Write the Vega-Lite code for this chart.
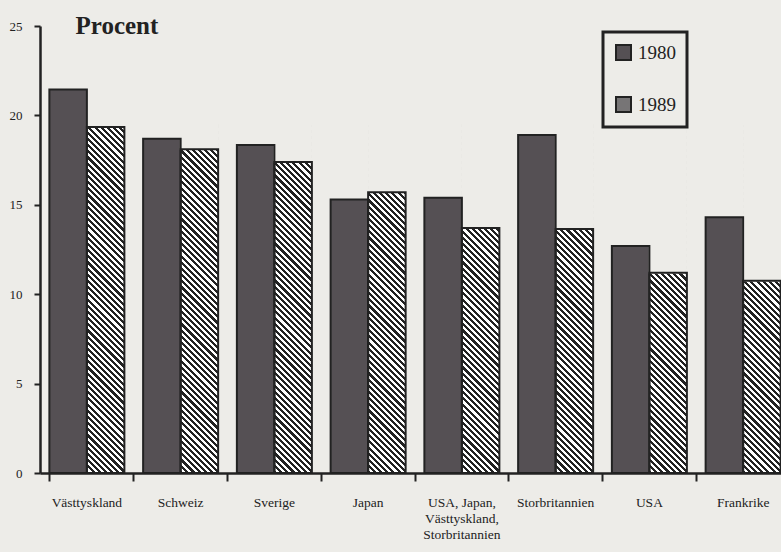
{
  "$schema": "https://vega.github.io/schema/vega-lite/v6.json",
  "width": 750,
  "height": 447,
  "autosize": "none",
  "padding": {"left": 40, "top": 26, "right": -9, "bottom": 79},
  "background": "#edece8",
  "config": {"view": {"stroke": null}, "legend": {"strokeWidth": 3}},
  "data": {
    "values": [
      {"country": "Västtyskland", "year": "1980", "value": 21.45},
      {"country": "Västtyskland", "year": "1989", "value": 19.35},
      {"country": "Schweiz", "year": "1980", "value": 18.7},
      {"country": "Schweiz", "year": "1989", "value": 18.1},
      {"country": "Sverige", "year": "1980", "value": 18.35},
      {"country": "Sverige", "year": "1989", "value": 17.4},
      {"country": "Japan", "year": "1980", "value": 15.3},
      {"country": "Japan", "year": "1989", "value": 15.7},
      {"country": "USA, Japan,|Västtyskland,|Storbritannien", "year": "1980", "value": 15.4},
      {"country": "USA, Japan,|Västtyskland,|Storbritannien", "year": "1989", "value": 13.7},
      {"country": "Storbritannien", "year": "1980", "value": 18.9},
      {"country": "Storbritannien", "year": "1989", "value": 13.65},
      {"country": "USA", "year": "1980", "value": 12.7},
      {"country": "USA", "year": "1989", "value": 11.2},
      {"country": "Frankrike", "year": "1980", "value": 14.3},
      {"country": "Frankrike", "year": "1989", "value": 10.75}
    ]
  },
  "encoding": {
    "x": {
      "field": "country",
      "type": "nominal",
      "sort": null,
      "scale": {"paddingInner": 0.2, "paddingOuter": 0.1},
      "axis": {
        "title": null,
        "labelAngle": 0,
        "labelExpr": "split(datum.label, '|')",
        "labelFont": "Liberation Serif",
        "labelFontSize": 13.5,
        "labelColor": "#222",
        "labelLineHeight": 16,
        "labelBaseline": "top",
        "labelPadding": 14,
        "bandPosition": 1.125,
        "tickExtra": true,
        "tickSize": 8,
        "tickWidth": 2,
        "tickColor": "#222",
        "domainColor": "#222",
        "domainWidth": 2.5,
        "zindex": 1
      }
    },
    "xOffset": {
      "field": "year",
      "type": "nominal",
      "scale": {"domain": ["1980", "1989"], "paddingInner": 0, "paddingOuter": 0}
    },
    "y": {
      "field": "value",
      "type": "quantitative",
      "scale": {"domain": [0, 25], "nice": false},
      "axis": {
        "title": "Procent",
        "titleAngle": 0,
        "titleX": 35,
        "titleY": 7,
        "titleAlign": "left",
        "titleBaseline": "alphabetic",
        "titleFont": "Liberation Serif",
        "titleFontSize": 25,
        "titleFontWeight": "bold",
        "titleColor": "#222",
        "values": [0, 5, 10, 15, 20, 25],
        "labelFont": "Liberation Serif",
        "labelFontSize": 13,
        "labelColor": "#222",
        "labelPadding": 12,
        "tickSize": 6,
        "tickWidth": 2,
        "tickColor": "#222",
        "domainColor": "#222",
        "domainWidth": 2.5,
        "grid": false,
        "zindex": 1
      }
    }
  },
  "layer": [
    {
      "mark": {"type": "bar", "strokeWidth": 0},
      "encoding": {
        "fill": {
          "field": "year",
          "type": "nominal",
          "scale": {"domain": ["1980", "1989"], "range": ["#555054", "#777576"]},
          "legend": {
            "title": null,
            "orient": "none",
            "legendX": 563,
            "legendY": 6,
            "direction": "vertical",
            "symbolType": "square",
            "symbolSize": 225,
            "symbolStrokeWidth": 2,
            "symbolStrokeColor": "#222",
            "labelFont": "Liberation Serif",
            "labelFontSize": 19,
            "labelColor": "#222",
            "labelOffset": 5,
            "rowPadding": 29,
            "padding": 11,
            "strokeColor": "#222"
          }
        }
      }
    },
    {
      "transform": [{"filter": "datum.year === '1989'"}],
      "mark": {
        "type": "bar",
        "strokeWidth": 0,
        "fill": {
          "gradient": "linear",
          "x1": 0, "y1": 1, "x2": 0.11776, "y2": -0.0949,
          "stops": [
            {"offset":0,"color":"#222"},{"offset":0.008,"color":"#222"},
            {"offset":0.008,"color":"#fff"},{"offset":0.016,"color":"#fff"},
            {"offset":0.016,"color":"#222"},{"offset":0.024,"color":"#222"},
            {"offset":0.024,"color":"#fff"},{"offset":0.032,"color":"#fff"},
            {"offset":0.032,"color":"#222"},{"offset":0.04,"color":"#222"},
            {"offset":0.04,"color":"#fff"},{"offset":0.048,"color":"#fff"},
            {"offset":0.048,"color":"#222"},{"offset":0.056,"color":"#222"},
            {"offset":0.056,"color":"#fff"},{"offset":0.064,"color":"#fff"},
            {"offset":0.064,"color":"#222"},{"offset":0.072,"color":"#222"},
            {"offset":0.072,"color":"#fff"},{"offset":0.08,"color":"#fff"},
            {"offset":0.08,"color":"#222"},{"offset":0.088,"color":"#222"},
            {"offset":0.088,"color":"#fff"},{"offset":0.096,"color":"#fff"},
            {"offset":0.096,"color":"#222"},{"offset":0.104,"color":"#222"},
            {"offset":0.104,"color":"#fff"},{"offset":0.112,"color":"#fff"},
            {"offset":0.112,"color":"#222"},{"offset":0.12,"color":"#222"},
            {"offset":0.12,"color":"#fff"},{"offset":0.128,"color":"#fff"},
            {"offset":0.128,"color":"#222"},{"offset":0.136,"color":"#222"},
            {"offset":0.136,"color":"#fff"},{"offset":0.144,"color":"#fff"},
            {"offset":0.144,"color":"#222"},{"offset":0.152,"color":"#222"},
            {"offset":0.152,"color":"#fff"},{"offset":0.16,"color":"#fff"},
            {"offset":0.16,"color":"#222"},{"offset":0.168,"color":"#222"},
            {"offset":0.168,"color":"#fff"},{"offset":0.176,"color":"#fff"},
            {"offset":0.176,"color":"#222"},{"offset":0.184,"color":"#222"},
            {"offset":0.184,"color":"#fff"},{"offset":0.192,"color":"#fff"},
            {"offset":0.192,"color":"#222"},{"offset":0.2,"color":"#222"},
            {"offset":0.2,"color":"#fff"},{"offset":0.208,"color":"#fff"},
            {"offset":0.208,"color":"#222"},{"offset":0.216,"color":"#222"},
            {"offset":0.216,"color":"#fff"},{"offset":0.224,"color":"#fff"},
            {"offset":0.224,"color":"#222"},{"offset":0.232,"color":"#222"},
            {"offset":0.232,"color":"#fff"},{"offset":0.24,"color":"#fff"},
            {"offset":0.24,"color":"#222"},{"offset":0.248,"color":"#222"},
            {"offset":0.248,"color":"#fff"},{"offset":0.256,"color":"#fff"},
            {"offset":0.256,"color":"#222"},{"offset":0.264,"color":"#222"},
            {"offset":0.264,"color":"#fff"},{"offset":0.272,"color":"#fff"},
            {"offset":0.272,"color":"#222"},{"offset":0.28,"color":"#222"},
            {"offset":0.28,"color":"#fff"},{"offset":0.288,"color":"#fff"},
            {"offset":0.288,"color":"#222"},{"offset":0.296,"color":"#222"},
            {"offset":0.296,"color":"#fff"},{"offset":0.304,"color":"#fff"},
            {"offset":0.304,"color":"#222"},{"offset":0.312,"color":"#222"},
            {"offset":0.312,"color":"#fff"},{"offset":0.32,"color":"#fff"},
            {"offset":0.32,"color":"#222"},{"offset":0.328,"color":"#222"},
            {"offset":0.328,"color":"#fff"},{"offset":0.336,"color":"#fff"},
            {"offset":0.336,"color":"#222"},{"offset":0.344,"color":"#222"},
            {"offset":0.344,"color":"#fff"},{"offset":0.352,"color":"#fff"},
            {"offset":0.352,"color":"#222"},{"offset":0.36,"color":"#222"},
            {"offset":0.36,"color":"#fff"},{"offset":0.368,"color":"#fff"},
            {"offset":0.368,"color":"#222"},{"offset":0.376,"color":"#222"},
            {"offset":0.376,"color":"#fff"},{"offset":0.384,"color":"#fff"},
            {"offset":0.384,"color":"#222"},{"offset":0.392,"color":"#222"},
            {"offset":0.392,"color":"#fff"},{"offset":0.4,"color":"#fff"},
            {"offset":0.4,"color":"#222"},{"offset":0.408,"color":"#222"},
            {"offset":0.408,"color":"#fff"},{"offset":0.416,"color":"#fff"},
            {"offset":0.416,"color":"#222"},{"offset":0.424,"color":"#222"},
            {"offset":0.424,"color":"#fff"},{"offset":0.432,"color":"#fff"},
            {"offset":0.432,"color":"#222"},{"offset":0.44,"color":"#222"},
            {"offset":0.44,"color":"#fff"},{"offset":0.448,"color":"#fff"},
            {"offset":0.448,"color":"#222"},{"offset":0.456,"color":"#222"},
            {"offset":0.456,"color":"#fff"},{"offset":0.464,"color":"#fff"},
            {"offset":0.464,"color":"#222"},{"offset":0.472,"color":"#222"},
            {"offset":0.472,"color":"#fff"},{"offset":0.48,"color":"#fff"},
            {"offset":0.48,"color":"#222"},{"offset":0.488,"color":"#222"},
            {"offset":0.488,"color":"#fff"},{"offset":0.496,"color":"#fff"},
            {"offset":0.496,"color":"#222"},{"offset":0.504,"color":"#222"},
            {"offset":0.504,"color":"#fff"},{"offset":0.512,"color":"#fff"},
            {"offset":0.512,"color":"#222"},{"offset":0.52,"color":"#222"},
            {"offset":0.52,"color":"#fff"},{"offset":0.528,"color":"#fff"},
            {"offset":0.528,"color":"#222"},{"offset":0.536,"color":"#222"},
            {"offset":0.536,"color":"#fff"},{"offset":0.544,"color":"#fff"},
            {"offset":0.544,"color":"#222"},{"offset":0.552,"color":"#222"},
            {"offset":0.552,"color":"#fff"},{"offset":0.56,"color":"#fff"},
            {"offset":0.56,"color":"#222"},{"offset":0.568,"color":"#222"},
            {"offset":0.568,"color":"#fff"},{"offset":0.576,"color":"#fff"},
            {"offset":0.576,"color":"#222"},{"offset":0.584,"color":"#222"},
            {"offset":0.584,"color":"#fff"},{"offset":0.592,"color":"#fff"},
            {"offset":0.592,"color":"#222"},{"offset":0.6,"color":"#222"},
            {"offset":0.6,"color":"#fff"},{"offset":0.608,"color":"#fff"},
            {"offset":0.608,"color":"#222"},{"offset":0.616,"color":"#222"},
            {"offset":0.616,"color":"#fff"},{"offset":0.624,"color":"#fff"},
            {"offset":0.624,"color":"#222"},{"offset":0.632,"color":"#222"},
            {"offset":0.632,"color":"#fff"},{"offset":0.64,"color":"#fff"},
            {"offset":0.64,"color":"#222"},{"offset":0.648,"color":"#222"},
            {"offset":0.648,"color":"#fff"},{"offset":0.656,"color":"#fff"},
            {"offset":0.656,"color":"#222"},{"offset":0.664,"color":"#222"},
            {"offset":0.664,"color":"#fff"},{"offset":0.672,"color":"#fff"},
            {"offset":0.672,"color":"#222"},{"offset":0.68,"color":"#222"},
            {"offset":0.68,"color":"#fff"},{"offset":0.688,"color":"#fff"},
            {"offset":0.688,"color":"#222"},{"offset":0.696,"color":"#222"},
            {"offset":0.696,"color":"#fff"},{"offset":0.704,"color":"#fff"},
            {"offset":0.704,"color":"#222"},{"offset":0.712,"color":"#222"},
            {"offset":0.712,"color":"#fff"},{"offset":0.72,"color":"#fff"},
            {"offset":0.72,"color":"#222"},{"offset":0.728,"color":"#222"},
            {"offset":0.728,"color":"#fff"},{"offset":0.736,"color":"#fff"},
            {"offset":0.736,"color":"#222"},{"offset":0.744,"color":"#222"},
            {"offset":0.744,"color":"#fff"},{"offset":0.752,"color":"#fff"},
            {"offset":0.752,"color":"#222"},{"offset":0.76,"color":"#222"},
            {"offset":0.76,"color":"#fff"},{"offset":0.768,"color":"#fff"},
            {"offset":0.768,"color":"#222"},{"offset":0.776,"color":"#222"},
            {"offset":0.776,"color":"#fff"},{"offset":0.784,"color":"#fff"},
            {"offset":0.784,"color":"#222"},{"offset":0.792,"color":"#222"},
            {"offset":0.792,"color":"#fff"},{"offset":0.8,"color":"#fff"},
            {"offset":0.8,"color":"#222"},{"offset":0.808,"color":"#222"},
            {"offset":0.808,"color":"#fff"},{"offset":0.816,"color":"#fff"},
            {"offset":0.816,"color":"#222"},{"offset":0.824,"color":"#222"},
            {"offset":0.824,"color":"#fff"},{"offset":0.832,"color":"#fff"},
            {"offset":0.832,"color":"#222"},{"offset":0.84,"color":"#222"},
            {"offset":0.84,"color":"#fff"},{"offset":0.848,"color":"#fff"},
            {"offset":0.848,"color":"#222"},{"offset":0.856,"color":"#222"},
            {"offset":0.856,"color":"#fff"},{"offset":0.864,"color":"#fff"},
            {"offset":0.864,"color":"#222"},{"offset":0.872,"color":"#222"},
            {"offset":0.872,"color":"#fff"},{"offset":0.88,"color":"#fff"},
            {"offset":0.88,"color":"#222"},{"offset":0.888,"color":"#222"},
            {"offset":0.888,"color":"#fff"},{"offset":0.896,"color":"#fff"},
            {"offset":0.896,"color":"#222"},{"offset":0.904,"color":"#222"},
            {"offset":0.904,"color":"#fff"},{"offset":0.912,"color":"#fff"},
            {"offset":0.912,"color":"#222"},{"offset":0.92,"color":"#222"},
            {"offset":0.92,"color":"#fff"},{"offset":0.928,"color":"#fff"},
            {"offset":0.928,"color":"#222"},{"offset":0.936,"color":"#222"},
            {"offset":0.936,"color":"#fff"},{"offset":0.944,"color":"#fff"},
            {"offset":0.944,"color":"#222"},{"offset":0.952,"color":"#222"},
            {"offset":0.952,"color":"#fff"},{"offset":0.96,"color":"#fff"},
            {"offset":0.96,"color":"#222"},{"offset":0.968,"color":"#222"},
            {"offset":0.968,"color":"#fff"},{"offset":0.976,"color":"#fff"},
            {"offset":0.976,"color":"#222"},{"offset":0.984,"color":"#222"},
            {"offset":0.984,"color":"#fff"},{"offset":0.992,"color":"#fff"},
            {"offset":0.992,"color":"#222"},{"offset":1,"color":"#222"}
          ]
        }
      },
      "encoding": {
        "y": {"datum": 19.5, "type": "quantitative"},
        "y2": {"datum": 0}
      }
    },
    {
      "transform": [{"filter": "datum.year === '1989'"}],
      "mark": {"type": "bar", "fill": "#edece8", "stroke": "#edece8", "strokeWidth": 1.5},
      "encoding": {
        "y2": {"datum": 19.5}
      }
    },
    {
      "mark": {"type": "bar", "fill": "transparent", "stroke": "#222", "strokeWidth": 2},
      "encoding": {}
    }
  ]
}
